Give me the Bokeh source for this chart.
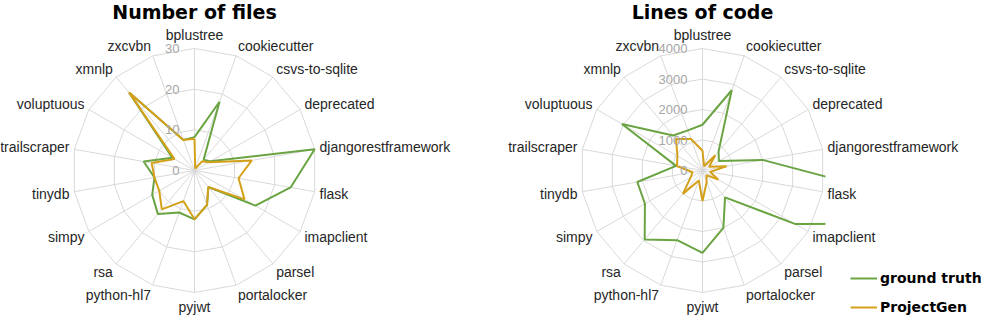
import math
from bokeh.plotting import figure
from bokeh.models import ColumnDataSource, LabelSet, Label, Legend, LegendItem, Range1d
from bokeh.core.properties import value
from bokeh.layouts import row
from bokeh.embed import file_html
from bokeh.resources import INLINE

categories = ["bplustree", "cookiecutter", "csvs-to-sqlite", "deprecated",
              "djangorestframework", "flask", "imapclient", "parsel",
              "portalocker", "pyjwt", "python-hl7", "rsa", "simpy", "tinydb",
              "trailscraper", "voluptuous", "xmnlp", "zxcvbn"]

files_truth = [8.2, 18, 3.5, 4.5, 30, 24, 17.3, 5.3, 9, 12, 11, 14, 12, 10, 12.7, 6.3, 25, 8]
files_gen = [7.8, 0.5, 3, 4, 14.3, 11, 14.2, 5.3, 9, 12, 8, 12.5, 10, 10, 10.7, 5.7, 25, 8]
files_ticks = [0, 10, 20, 30]

loc_truth = [1500, 2800, 820, 620, 2000, 10000, 3500, 1150, 2000, 2700, 2430, 2950, 2180, 2170, 880, 3050, 1500, 1400]
loc_gen = [650, 150, 650, 250, 800, 250, 600, 200, 400, 1000, 350, 1000, 450, 330, 850, 950, 1350, 1100]
loc_ticks = [0, 1000, 2000, 3000, 4000]

GREEN = "#6aa442"
GOLD = "#d4a019"
GRID = "#d9d9d9"
LABEL_FONT = value("Liberation Sans")
H = 316
R_PX = 122.0
CY = 170.0  # px from top of figure


def make_radar(width, cx, title, ticks, truth, gen, clip_px=None):
    vmax = ticks[-1]
    k = R_PX / vmax
    p = figure(width=width, height=H, output_backend="svg", toolbar_location=None,
               x_axis_location=None, y_axis_location=None,
               x_range=Range1d(-cx / k, (width - cx) / k),
               y_range=Range1d(-(H - CY) / k, CY / k),
               min_border=0)
    p.outline_line_color = None
    p.grid.visible = False
    n = len(categories)
    ang = [2 * math.pi * i / n for i in range(n)]
    sn = [math.sin(a) for a in ang]
    cs = [math.cos(a) for a in ang]

    # rings
    rings = [t for t in ticks if t > 0]
    p.multi_line(xs=[[r * s for s in sn] + [r * sn[0]] for r in rings],
                 ys=[[r * c for c in cs] + [r * cs[0]] for r in rings],
                 line_color=GRID, line_width=1)
    # spokes
    p.segment(x0=[0] * n, y0=[0] * n, x1=[vmax * s for s in sn], y1=[vmax * c for c in cs],
              line_color=GRID, line_width=1)

    # series
    g = p.line([v * s for v, s in zip(truth, sn)] + [truth[0] * sn[0]],
               [v * c for v, c in zip(truth, cs)] + [truth[0] * cs[0]],
               line_color=GREEN, line_width=2)
    o = p.line([v * s for v, s in zip(gen, sn)] + [gen[0] * sn[0]],
               [v * c for v, c in zip(gen, cs)] + [gen[0] * cs[0]],
               line_color=GOLD, line_width=2)

    # plot-area edge (the series is cut off there, as in the original)
    if clip_px is not None:
        p.quad(left=clip_px / k, right=10 * vmax, bottom=-10 * vmax, top=10 * vmax,
               fill_color="white", line_color=None)

    # category labels
    groups = {}
    rl = vmax + 5 / k
    for name, s, c in zip(categories, sn, cs):
        if s > 0.1:
            key = ("left", "middle")
            x, y = rl * s, rl * c + 5.5 * c / k
        elif s < -0.1:
            key = ("right", "middle")
            x, y = rl * s, rl * c + 5.5 * c / k
        elif c > 0:
            key = ("center", "bottom")
            x, y = 0, vmax + 6 / k
        else:
            key = ("center", "top")
            x, y = 0, -vmax - 6 / k
        groups.setdefault(key, {"x": [], "y": [], "t": []})
        groups[key]["x"].append(x)
        groups[key]["y"].append(y)
        groups[key]["t"].append(name)
    for (al, bl), d in groups.items():
        p.add_layout(LabelSet(x="x", y="y", text="t", source=ColumnDataSource(d),
                              text_align=al, text_baseline=bl, text_font=LABEL_FONT,
                              text_font_size="14px", text_color="#262626"))

    # tick labels
    p.add_layout(LabelSet(x="x", y="y", text="t",
                          source=ColumnDataSource({"x": [-15 / k] * len(ticks), "y": ticks,
                                                   "t": [str(t) for t in ticks]}),
                          text_align="right", text_baseline="middle", text_font=LABEL_FONT,
                          text_font_size="13px", text_color="#a6a6a6"))

    # title
    p.add_layout(Label(x=0, y=(CY - 11) / k, text=title, text_align="center",
                       text_baseline="middle", text_font="DejaVu Sans",
                       text_font_style="bold", text_font_size="19px", text_color="#000000"))
    return p, g, o


left, _, _ = make_radar(492, 194, "Number of files", files_ticks, files_truth, files_gen)
right, g, o = make_radar(489, 210, "Lines of code", loc_ticks, loc_truth, loc_gen,
                         clip_px=123)

legend = Legend(items=[LegendItem(label="ground truth", renderers=[g]),
                       LegendItem(label="ProjectGen", renderers=[o])],
                location=(358, 1), orientation="vertical",
                label_text_font="DejaVu Sans", label_text_font_style="bold",
                label_text_font_size="14px", label_text_color="#000000",
                glyph_width=27, glyph_height=16, label_height=16, label_standoff=3,
                spacing=13, padding=0, margin=0, border_line_color=None,
                background_fill_alpha=0)
right.add_layout(legend)

layout = row(left, right)
open("out.html", "w").write(file_html(layout, INLINE))
